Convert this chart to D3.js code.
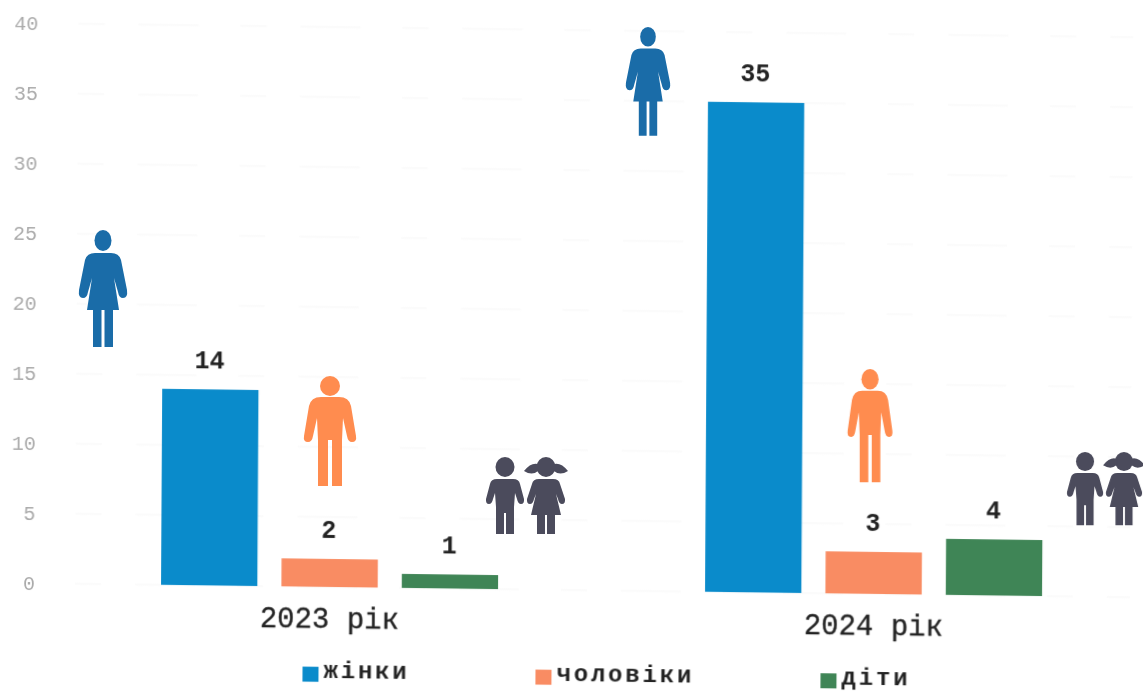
<!DOCTYPE html>
<html lang="uk">
<head>
<meta charset="utf-8">
<script src="https://cdn.jsdelivr.net/npm/d3@7"></script>
<style>
  html, body { margin: 0; padding: 0; background: #fff; }
  svg { display: block; }
  text { font-family: "Liberation Mono", monospace; }
</style>
</head>
<body>
<div id="chart"></div>
<script>
const years = ["2023 рік", "2024 рік"];
const seriesNames = ["жінки", "чоловіки", "діти"];
const women = [14, 35];
const men = [2, 3];
const kids = [1, 4];
const yTicks = [0, 5, 10, 15, 20, 25, 30, 35, 40];

const colors = { "жінки": "#0a8bcb", "чоловіки": "#f98c63", "діти": "#3f8556" };
const valuesBySeries = { "жінки": women, "чоловіки": men, "діти": kids };

const width = 1143, height = 691;

const svg = d3.select("#chart").append("svg")
  .attr("width", width)
  .attr("height", height);

// the source is a scan, slightly skewed
const plot = svg.append("g")
  .attr("transform", "translate(25,583) matrix(1,0.0128,-0.006,1,0,0) translate(-25,-583)")
  .style("filter", "blur(0.4px)");

const y = d3.scaleLinear().domain([0, 40]).range([583, 23]);
const x0 = d3.scalePoint().domain(years).range([161, 705]);
const x1 = d3.scaleBand().domain(seriesNames).range([0, 337]).paddingInner(0.2);
const xLabel = d3.scalePoint().domain(years).range([329, 873]);

// faint gridlines, nearly gone in the scan
plot.append("g")
  .selectAll("line")
  .data(yTicks)
  .enter()
  .append("line")
  .attr("x1", 75)
  .attr("x2", 1130)
  .attr("y1", d => y(d))
  .attr("y2", d => y(d))
  .attr("stroke", "#f7f7f7")
  .attr("stroke-dasharray", "26 34 60 42");

// y axis
const yAxis = plot.append("g")
  .attr("transform", "translate(35,0)")
  .call(d3.axisLeft(y).tickValues(yTicks).tickSize(0).tickPadding(0));
yAxis.select(".domain").remove();
yAxis.selectAll("text")
  .style("font-family", "'Liberation Mono', monospace")
  .style("font-size", "20px")
  .attr("fill", "#ababab");

// bars
years.forEach((year, i) => {
  const g = plot.append("g").attr("transform", `translate(${x0(year)},0)`);

  g.selectAll(".bar")
    .data(seriesNames)
    .enter()
    .append("rect")
    .attr("class", "bar")
    .attr("x", d => x1(d))
    .attr("y", d => y(valuesBySeries[d][i]))
    .attr("width", x1.bandwidth())
    .attr("height", d => y(0) - y(valuesBySeries[d][i]))
    .attr("fill", d => colors[d]);

  g.selectAll(".label")
    .data(seriesNames)
    .enter()
    .append("text")
    .attr("class", "label")
    .attr("x", d => x1(d) + x1.bandwidth() / 2 - 1)
    .attr("y", d => y(valuesBySeries[d][i]) - 21)
    .attr("text-anchor", "middle")
    .style("font-size", "25px")
    .style("font-weight", "bold")
    .attr("fill", "#222")
    .text(d => valuesBySeries[d][i]);
});

// year labels
const xAxis = plot.append("g")
  .attr("transform", "translate(0,624)")
  .call(d3.axisBottom(xLabel).tickSize(0).tickPadding(0));
xAxis.select(".domain").remove();
xAxis.selectAll("text")
  .attr("y", 0)
  .attr("dy", 0)
  .style("font-family", "'Liberation Mono', monospace")
  .style("font-size", "29px")
  .attr("stroke", "#222")
  .attr("stroke-width", 0.3)
  .attr("fill", "#222");

// legend
const legendX = d3.scaleOrdinal().domain(seriesNames).range([303, 536, 821]);
const legend = plot.append("g")
  .selectAll("g")
  .data(seriesNames)
  .enter()
  .append("g")
  .attr("transform", d => `translate(${legendX(d)},663)`);
legend.append("rect")
  .attr("width", 16)
  .attr("height", 15)
  .attr("fill", d => colors[d]);
legend.append("text")
  .attr("x", 21)
  .attr("y", 10.5)
  .style("font-size", "24px")
  .style("letter-spacing", "2.8px")
  .style("font-weight", "bold")
  .attr("fill", "#222")
  .text(d => d);

// pictograms, in a box with the top at y=0 and the centre at x=0
const womanPath = "M-8,23 L8,23 Q16,23 18,30 L24,60 Q25,68 20,68 Q16,68 15,62 L11,48 L16,80 L10,80 L10,117 L1.5,117 L1.5,80 L-1.5,80 L-1.5,117 L-10,117 L-10,80 L-16,80 L-11,48 L-15,62 Q-16,68 -20,68 Q-25,68 -24,60 L-18,30 Q-16,23 -8,23 Z";
const manPath = "M-9,21 L9,21 Q19,21 21,30 L26,60 Q27,66 22,66 Q18,66 17,60 L13,42 L12,64 L12,110 L2,110 L2,64 L-2,64 L-2,110 L-12,110 L-12,64 L-13,42 L-17,60 Q-18,66 -22,66 Q-27,66 -26,60 L-21,30 Q-19,21 -9,21 Z";
const boyPath = "M-8,22 L8,22 Q14,22 15,27 L19,42 Q19.5,47 16,47 Q13,47 12,42 L10,36 L9,50 L9,77 L1,77 L1,56 L-1,56 L-1,77 L-9,77 L-9,50 L-10,36 L-12,42 Q-13,47 -16,47 Q-19.5,47 -19,42 L-15,27 Q-14,22 -8,22 Z";
const girlPath = "M-7,22 L7,22 Q13,22 14,27 L19,42 Q19.5,47 16,47 Q13,47 12,42 L10,37 L15,58 L9,58 L9,77 L1,77 L1,58 L-1,58 L-1,77 L-9,77 L-9,58 L-15,58 L-10,37 L-12,42 Q-13,47 -16,47 Q-19.5,47 -19,42 L-14,27 Q-13,22 -7,22 Z M-8,7 Q-15,5 -22,14 Q-14,19 -8,14 Z M8,7 Q15,5 22,14 Q14,19 8,14 Z";

function drawFigure(g, path, headY, headRx, headRy, fill) {
  g.append("ellipse")
    .attr("cx", 0)
    .attr("cy", headY)
    .attr("rx", headRx)
    .attr("ry", headRy)
    .attr("fill", fill);
  g.append("path").attr("d", path).attr("fill", fill);
}

const figureLayout = [
  { kind: "woman", x: 103, top: 230, sx: 1, sy: 1 },
  { kind: "woman", x: 648, top: 27, sx: 0.92, sy: 0.93 },
  { kind: "man", x: 330, top: 376, sx: 1, sy: 1 },
  { kind: "man", x: 870, top: 369, sx: 0.86, sy: 1.03 },
  { kind: "kids", x: 526, top: 457, sx: 1, sy: 1 },
  { kind: "kids", x: 1105, top: 452, sx: 0.95, sy: 0.95 }
];

const figures = svg.append("g").style("filter", "blur(0.4px)");

figureLayout.forEach(d => {
  const g = figures.append("g")
    .attr("transform", `translate(${d.x},${d.top}) scale(${d.sx},${d.sy})`);
  if (d.kind === "woman") {
    drawFigure(g, womanPath, 10.5, 8.5, 10.5, "#1a6ca8");
  } else if (d.kind === "man") {
    drawFigure(g, manPath, 10, 10, 10, "#ff8c4f");
  } else {
    drawFigure(g.append("g").attr("transform", "translate(-21,0)"), boyPath, 10, 9.5, 10, "#4b4b5c");
    drawFigure(g.append("g").attr("transform", "translate(20,0)"), girlPath, 10, 9.5, 10, "#4b4b5c");
  }
});
</script>
</body>
</html>
